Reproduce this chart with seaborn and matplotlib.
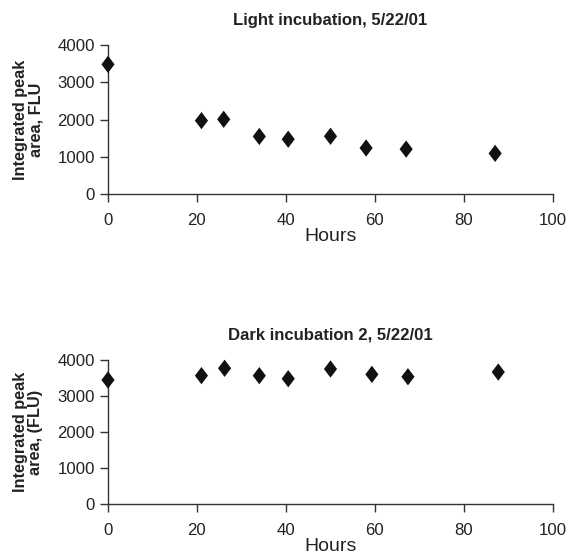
import matplotlib
matplotlib.use("Agg")
import matplotlib.pyplot as plt
import seaborn as sns
import pandas as pd

# Data
light_hours = [0, 21, 26, 34, 40.5, 50, 58, 67, 87]
light_area = [3480, 1970, 2005, 1545, 1470, 1550, 1235, 1205, 1090]
dark_hours = [0, 21, 26.2, 34, 40.5, 50, 59.3, 67.4, 87.7]
dark_area = [3445, 3565, 3770, 3565, 3480, 3750, 3600, 3535, 3665]
x_ticks = [0, 20, 40, 60, 80, 100]
y_ticks = [0, 1000, 2000, 3000, 4000]
titles = ["Light incubation, 5/22/01", "Dark incubation 2, 5/22/01"]
ylabels = ["Integrated peak\narea, FLU", "Integrated peak\narea, (FLU)"]

sns.set_theme(style="ticks")
plt.rcParams['font.family'] = ['Liberation Sans', 'DejaVu Sans']

fig = plt.figure(figsize=(5.69, 5.55), dpi=100)
W, H = 569, 555
ax_specs = [(108, 45, 553, 194), (108, 360, 553, 504)]
diamond = [(0, 1), (0.76, 0), (0, -1), (-0.76, 0), (0, 1)]

datasets = [(light_hours, light_area), (dark_hours, dark_area)]
for (l, t, r, b), (hx, hy), title, ylab in zip(ax_specs, datasets, titles, ylabels):
    ax = fig.add_axes([l / W, 1 - b / H, (r - l) / W, (b - t) / H])
    df = pd.DataFrame({"Hours": hx, "Area": hy})
    sns.scatterplot(data=df, x="Hours", y="Area", ax=ax, marker=diamond,
                    s=155, color="#111111", edgecolor="none", clip_on=False, zorder=5)
    ax.set_xlim(0, 100)
    ax.set_ylim(0, 4000)
    ax.set_xticks(x_ticks)
    ax.set_yticks(y_ticks)
    for s in ["top", "right"]:
        ax.spines[s].set_visible(False)
    for s in ["left", "bottom"]:
        ax.spines[s].set_color("#333333")
        ax.spines[s].set_linewidth(1.0)
    ax.tick_params(axis="both", direction="out", length=5.5, width=1.0,
                   color="#333333", labelsize=12.1, labelcolor="#222222")
    ax.tick_params(axis="x", pad=8)
    ax.tick_params(axis="y", pad=4)
    ax.set_xlabel("Hours", fontsize=14, color="#222222", labelpad=0)
    ax.set_ylabel(ylab, fontsize=11.7, fontweight="bold", color="#222222",
                  linespacing=1.05, labelpad=10)
    ax.set_title(title, fontsize=12.1, fontweight="bold", color="#222222", pad=14.5)
    ax.grid(False)

fig.savefig("out.png", dpi=100, facecolor="white")
